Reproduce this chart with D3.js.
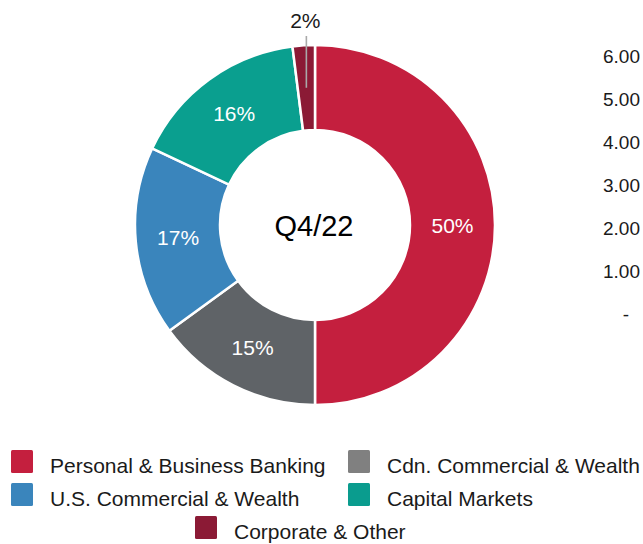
<!DOCTYPE html>
<html>
<head>
<meta charset="utf-8">
<script src="https://cdn.jsdelivr.net/npm/d3@7"></script>
<style>
  html, body { margin: 0; padding: 0; background: #fff; }
  svg { display: block; font-family: "Liberation Sans", Arial, sans-serif; }
</style>
</head>
<body>
<svg id="chart" width="643" height="544"></svg>
<script>
// Segment mix for the quarter
const segments = ["Personal & Business Banking", "Cdn. Commercial & Wealth", "U.S. Commercial & Wealth", "Capital Markets", "Corporate & Other"];
const shares = [50, 15, 17, 16, 2];
const sliceColors = ["#C41F3E", "#5F6367", "#3A85BC", "#0A9F8F", "#8B1A35"];
const legendColors = ["#C41F3E", "#808080", "#3A85BC", "#0A9C8E", "#8B1A35"];
const centerLabel = "Q4/22";

// Axis labels of the neighbouring chart
const axisValues = [0, 1, 2, 3, 4, 5, 6];

const svg = d3.select("#chart");

const cx = 315, cy = 225, rOuter = 180, rInner = 95;

const pie = d3.pie().sort(null).value(d => d).startAngle(0).endAngle(2 * Math.PI);
const arcs = pie(shares);
const arc = d3.arc().innerRadius(rInner).outerRadius(rOuter);
const mid = d3.arc().innerRadius((rInner + rOuter) / 2).outerRadius((rInner + rOuter) / 2);

const g = svg.append("g").attr("transform", `translate(${cx},${cy})`);

g.selectAll("path.slice")
  .data(arcs)
  .join("path")
  .attr("class", "slice")
  .attr("d", arc)
  .attr("fill", (d, i) => sliceColors[i])
  .attr("stroke", "#fff")
  .attr("stroke-width", 2.5)
  .attr("stroke-linejoin", "miter");

// In-ring labels for the larger slices, callout for small ones
const smallLimit = 5;
arcs.forEach((d, i) => {
  const [x, y] = mid.centroid(d);
  if (d.data >= smallLimit) {
    g.append("text")
      .attr("x", x)
      .attr("y", y)
      .attr("text-anchor", "middle")
      .attr("dy", "0.36em")
      .attr("fill", "#fff")
      .attr("font-size", 21)
      .text(d.data + "%");
  } else {
    g.append("line")
      .attr("x1", x).attr("y1", y)
      .attr("x2", x).attr("y2", -rOuter - 9)
      .attr("stroke", "#A9A9A9")
      .attr("stroke-width", 1.6);
    g.append("text")
      .attr("x", x - 1)
      .attr("y", -rOuter - 17)
      .attr("text-anchor", "middle")
      .attr("fill", "#1a1a1a")
      .attr("font-size", 21)
      .text(d.data + "%");
  }
});

g.append("text")
  .attr("x", -1)
  .attr("y", 11)
  .attr("text-anchor", "middle")
  .attr("fill", "#000")
  .attr("font-size", 29)
  .text(centerLabel);

// Value axis labels on the right edge
const y = d3.scaleLinear().domain([0, 6]).range([314, 56]);
const axis = d3.axisLeft(y)
  .tickValues(axisValues)
  .tickSize(0)
  .tickPadding(0)
  .tickFormat(v => v === 0 ? "-" : d3.format(".2f")(v));
const axG = svg.append("g").attr("transform", "translate(640,0)").call(axis);
axG.select(".domain").remove();
axG.selectAll("text")
  .attr("font-size", 19)
  .attr("font-family", "Liberation Sans, Arial, sans-serif")
  .attr("fill", "#1a1a1a")
  .attr("x", v => v === 0 ? -11 : 0);

// Legend
const legendPos = [
  { sx: 11, row: 0 }, { sx: 348, row: 0 },
  { sx: 11, row: 1 }, { sx: 348, row: 1 },
  { sx: 195, row: 2 }
];
const leg = svg.append("g");
segments.forEach((name, i) => {
  const p = legendPos[i];
  const top = 450 + p.row * 33;
  leg.append("rect")
    .attr("x", p.sx)
    .attr("y", top)
    .attr("width", 22)
    .attr("height", 23)
    .attr("rx", 1.5)
    .attr("fill", legendColors[i]);
  leg.append("text")
    .attr("x", p.sx + 39)
    .attr("y", top + 23)
    .attr("fill", "#1a1a1a")
    .attr("font-size", 21)
    .text(name);
});
</script>
</body>
</html>
